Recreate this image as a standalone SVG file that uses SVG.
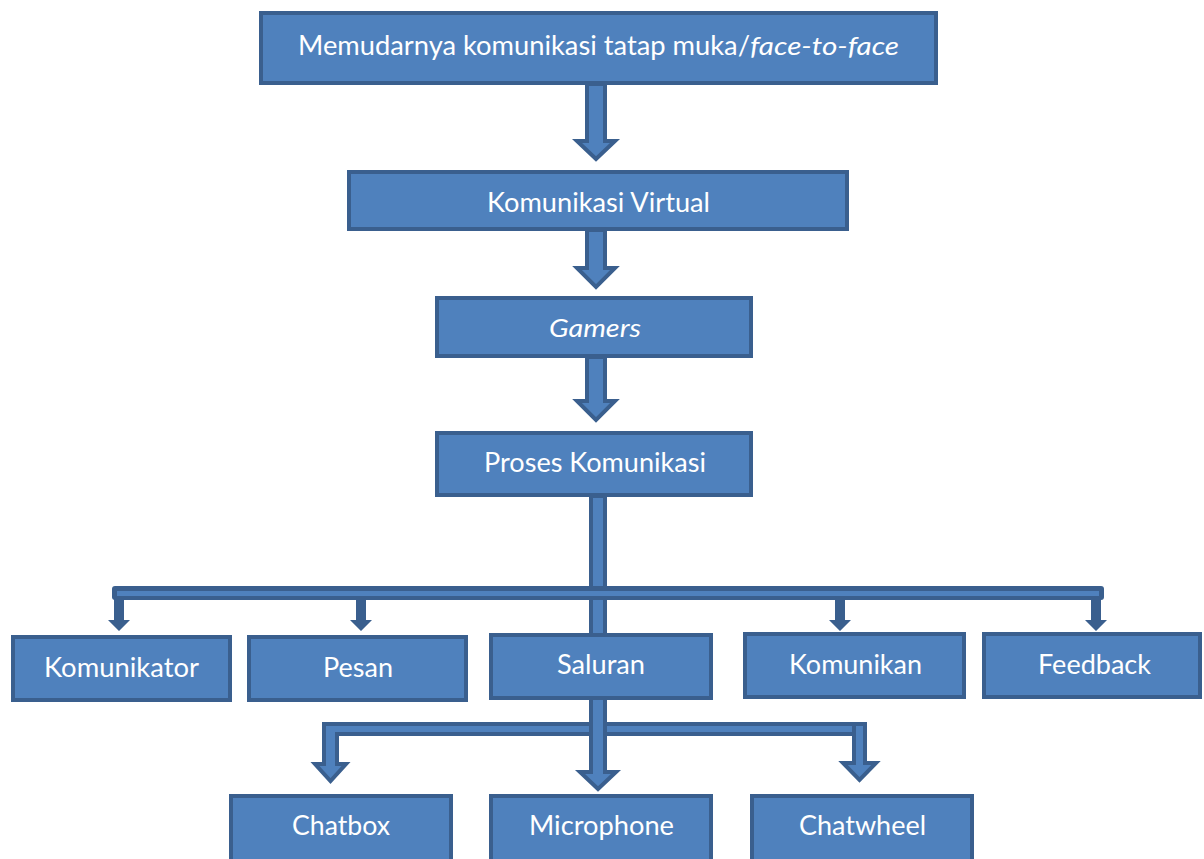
<svg xmlns="http://www.w3.org/2000/svg" width="1204" height="859" viewBox="0 0 1204 859">
<style>
.box{fill:#4F81BD;stroke:#3A5F8E;stroke-width:4}
.blk{fill:#4F81BD;stroke:#3A5F8E;stroke-width:4;stroke-linejoin:miter}
.dk{fill:#3A5F8E}
.lt{fill:#4F81BD}
text{font-family:Lato,"Open Sans","Liberation Sans",sans-serif;font-size:26px;fill:#FFFFFF}
.it{font-style:italic}
</style>
<rect width="1204" height="859" fill="#FFFFFF"/>
<g id="connectors">
<polygon class="blk" points="587,84 605,84 605,141 615,141 596,159 577,141 587,141"/>
<polygon class="blk" points="587,230 605,230 605,268 615,268 596,287 577,268 587,268"/>
<polygon class="blk" points="587,357 605,357 605,401 615,401 596,420 577,401 587,401"/>
<rect class="blk" x="591" y="496" width="14" height="139"/>
<rect class="dk" x="112" y="586" width="992" height="14" rx="3"/>
<rect class="lt" x="117" y="591" width="982" height="5"/>
<polygon class="dk" points="114,598 124,598 124,620 130,620 119,631 108,620 114,620"/>
<polygon class="dk" points="356,598 366,598 366,620 372,620 361,631 350,620 356,620"/>
<polygon class="dk" points="835,598 845,598 845,620 851,620 840,631 829,620 835,620"/>
<polygon class="dk" points="1091,598 1101,598 1101,620 1107,620 1096,631 1085,620 1091,620"/>
<polygon class="blk" points="324,764 324,724 856,724 856,734 337,734 337,764 346,764 330.5,781 315,764"/>
<polygon class="blk" points="854,724 865,724 865,763 876,763 859.5,780 843,763 854,763"/>
<polygon class="blk" points="591,698 605,698 605,772 616,772 598,789 580,772 591,772"/>
</g>
<g id="node-top"><rect class="box" x="261" y="13" width="675" height="70"/>
<text x="298" y="55" textLength="452" lengthAdjust="spacingAndGlyphs">Memudarnya komunikasi tatap muka/</text>
<text class="it" x="750" y="55" textLength="149" lengthAdjust="spacingAndGlyphs">face-to-face</text></g>
<g id="node-virtual"><rect class="box" x="349" y="172" width="498" height="57"/>
<text x="487" y="212" textLength="223" lengthAdjust="spacingAndGlyphs">Komunikasi Virtual</text></g>
<g id="node-gamers"><rect class="box" x="437" y="298" width="314" height="58"/>
<text class="it" x="549" y="337" textLength="92" lengthAdjust="spacingAndGlyphs">Gamers</text></g>
<g id="node-proses"><rect class="box" x="437" y="433" width="314" height="62"/>
<text x="484" y="472" textLength="222" lengthAdjust="spacingAndGlyphs">Proses Komunikasi</text></g>
<g id="node-komunikator"><rect class="box" x="13" y="637" width="217" height="63"/>
<text x="44" y="677" textLength="155" lengthAdjust="spacingAndGlyphs">Komunikator</text></g>
<g id="node-pesan"><rect class="box" x="249" y="637" width="217" height="63"/>
<text x="323" y="677" textLength="70" lengthAdjust="spacingAndGlyphs">Pesan</text></g>
<g id="node-saluran"><rect class="box" x="491" y="635" width="220" height="63"/>
<text x="557" y="674" textLength="88" lengthAdjust="spacingAndGlyphs">Saluran</text></g>
<g id="node-komunikan"><rect class="box" x="745" y="634" width="219" height="63"/>
<text x="789" y="674" textLength="133" lengthAdjust="spacingAndGlyphs">Komunikan</text></g>
<g id="node-feedback"><rect class="box" x="984" y="634" width="216" height="63"/>
<text x="1038" y="674" textLength="113" lengthAdjust="spacingAndGlyphs">Feedback</text></g>
<g id="node-chatbox"><rect class="box" x="231" y="796" width="220" height="68"/>
<text x="292" y="835" textLength="98" lengthAdjust="spacingAndGlyphs">Chatbox</text></g>
<g id="node-microphone"><rect class="box" x="491" y="796" width="220" height="68"/>
<text x="529" y="835" textLength="145" lengthAdjust="spacingAndGlyphs">Microphone</text></g>
<g id="node-chatwheel"><rect class="box" x="752" y="796" width="220" height="68"/>
<text x="799" y="835" textLength="127" lengthAdjust="spacingAndGlyphs">Chatwheel</text></g>
</svg>
